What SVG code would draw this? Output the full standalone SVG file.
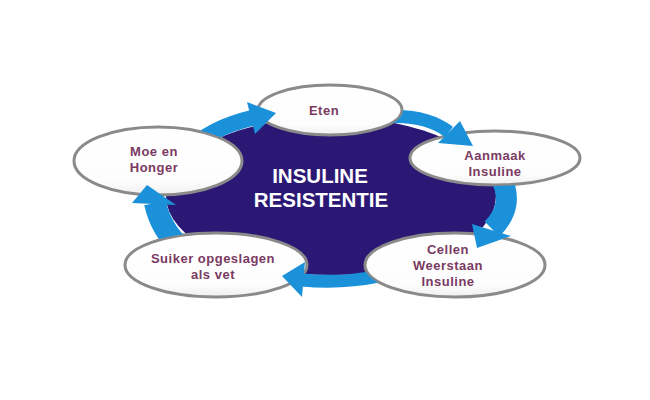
<svg xmlns="http://www.w3.org/2000/svg" width="650" height="400" viewBox="0 0 650 400">
<style>
.node ellipse{fill:url(#ng);stroke:#8a8a8a;stroke-width:3}
.lbl{font-family:"Liberation Sans",Arial,sans-serif;font-weight:bold;font-size:13px;fill:#7a3a62;text-anchor:middle;letter-spacing:0.5px}
.ctr{font-family:"Liberation Sans",Arial,sans-serif;font-weight:bold;font-size:20.5px;fill:#ffffff;text-anchor:middle}
.body{fill:none;stroke:#1b91da}
.head{fill:#1b91da}
</style>
<defs>
<linearGradient id="ng" x1="0" y1="0" x2="0" y2="1">
<stop offset="0" stop-color="#ffffff"/>
<stop offset="0.8" stop-color="#fdfdfd"/>
<stop offset="1" stop-color="#efefef"/>
</linearGradient>
<mask id="m1" maskUnits="userSpaceOnUse" x="0" y="0" width="650" height="400"><rect width="650" height="400" fill="#fff"/><ellipse cx="158" cy="161" rx="85" ry="35" fill="#000"/></mask>
<mask id="m2" maskUnits="userSpaceOnUse" x="0" y="0" width="650" height="400"><rect width="650" height="400" fill="#fff"/><ellipse cx="330" cy="110" rx="73" ry="26" fill="#000"/></mask>
<mask id="m3" maskUnits="userSpaceOnUse" x="0" y="0" width="650" height="400"><rect width="650" height="400" fill="#fff"/><ellipse cx="495" cy="158" rx="86" ry="28" fill="#000"/></mask>
<mask id="m4" maskUnits="userSpaceOnUse" x="0" y="0" width="650" height="400"><rect width="650" height="400" fill="#fff"/><ellipse cx="455" cy="265" rx="91" ry="33" fill="#000"/></mask>
<mask id="m5" maskUnits="userSpaceOnUse" x="0" y="0" width="650" height="400"><rect width="650" height="400" fill="#fff"/><ellipse cx="216" cy="265" rx="92" ry="33" fill="#000"/></mask>
</defs>
<rect width="650" height="400" fill="#ffffff"/>
<g id="center">
<ellipse cx="331" cy="196" rx="165" ry="79" fill="#2b1874"/>
<text class="ctr" x="320" y="183">INSULINE</text>
<text class="ctr" x="321" y="207">RESISTENTIE</text>
</g>
<g id="node-moe" class="node">
<ellipse cx="158" cy="161" rx="84" ry="34"/>
<text class="lbl" x="154" y="156">Moe en</text>
<text class="lbl" x="154" y="172">Honger</text>
</g>
<g id="node-eten" class="node">
<ellipse cx="330" cy="110" rx="72" ry="25"/>
<text class="lbl" x="324" y="115">Eten</text>
</g>
<g id="node-aanmaak" class="node">
<ellipse cx="495" cy="158" rx="85" ry="27"/>
<text class="lbl" x="495" y="160">Aanmaak</text>
<text class="lbl" x="495" y="176">Insuline</text>
</g>
<g id="node-cellen" class="node">
<ellipse cx="455" cy="265" rx="90" ry="32"/>
<text class="lbl" x="448" y="254">Cellen</text>
<text class="lbl" x="448" y="270">Weerstaan</text>
<text class="lbl" x="448" y="286">Insuline</text>
</g>
<g id="node-suiker" class="node">
<ellipse cx="216" cy="265" rx="91" ry="32"/>
<text class="lbl" x="213" y="263">Suiker opgeslagen</text>
<text class="lbl" x="213" y="279">als vet</text>
</g>
<g id="connectors">
<g mask="url(#m1)"><path class="body" stroke-width="16" d="M190 150 Q210 128 252 118"/></g>
<polygon class="head" points="247,102 276,113 255,134"/>
<g mask="url(#m2)"><path class="body" stroke-width="13" d="M385 117 Q425 114 449 132"/></g>
<polygon class="head" points="460,121 473,146 438,143"/>
<g mask="url(#m3)"><path class="body" stroke-width="21" d="M500 176 Q516 205 492 229"/></g>
<polygon class="head" points="511,236 477,248 472,224"/>
<g mask="url(#m4)"><path class="body" stroke-width="13" d="M380 276 Q340 284 302 280"/></g>
<polygon class="head" points="305,262 282,276 302,297"/>
<g mask="url(#m5)"><path class="body" stroke-width="22" d="M190 255 Q162 235 155 203"/></g>
<polygon class="head" points="132,203 147,185 176,205"/>
</g>
</svg>
